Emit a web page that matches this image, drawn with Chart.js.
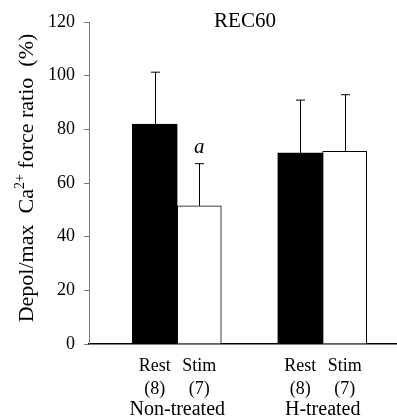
<!DOCTYPE html>
<html>
<head>
<meta charset="utf-8">
<script src="https://cdn.jsdelivr.net/npm/chart.js@4.4.1/dist/chart.umd.min.js"></script>
<style>
  html, body { margin: 0; padding: 0; background: #fff; }
  #wrap { width: 397px; height: 420px; position: relative; }
</style>
</head>
<body>
<div id="wrap"><canvas id="c" width="397" height="420"></canvas></div>
<script>
// ---- Data ----
const chartTitle = 'REC60';
const groups = ['Non-treated', 'H-treated'];
const conditions = ['Rest', 'Stim'];
const restMean = [82.0, 71.2];
const restSD = [19.3, 19.7];
const restN = [8, 8];
const stimMean = [51.5, 71.8];
const stimSD = [15.7, 21.1];
const stimN = [7, 7];
const stimMarks = ['a', ''];
const yTicks = [0, 20, 40, 60, 80, 100, 120];

const FONT = "'Liberation Serif', 'Times New Roman', serif";

const errorBars = {
  id: 'errorBars',
  afterDatasetsDraw(chart) {
    const ctx = chart.ctx;
    const ys = chart.scales.y;
    const sds = [restSD, stimSD];
    const means = [restMean, stimMean];
    ctx.save();
    ctx.strokeStyle = '#000';
    ctx.lineWidth = 1;
    chart.data.datasets.forEach((ds, di) => {
      const meta = chart.getDatasetMeta(di);
      meta.data.forEach((el, i) => {
        const x = Math.round(el.x) + 0.5;
        const yTop = ys.getPixelForValue(means[di][i] + sds[di][i]);
        ctx.beginPath();
        ctx.moveTo(x, el.y);
        ctx.lineTo(x, yTop);
        ctx.moveTo(x - 4.5, yTop);
        ctx.lineTo(x + 4.5, yTop);
        ctx.stroke();
      });
    });
    // significance marks
    const meta = chart.getDatasetMeta(1);
    ctx.fillStyle = '#000';
    ctx.font = "italic 21px " + FONT;
    ctx.textAlign = 'center';
    ctx.textBaseline = 'alphabetic';
    meta.data.forEach((el, i) => {
      if (!stimMarks[i]) return;
      const yTop = ys.getPixelForValue(stimMean[i] + stimSD[i]);
      ctx.fillText(stimMarks[i], el.x, yTop - 11);
    });
    ctx.restore();
  }
};

const labelsPlugin = {
  id: 'labelsPlugin',
  afterDraw(chart) {
    const ctx = chart.ctx;
    const area = chart.chartArea;
    ctx.save();
    ctx.fillStyle = '#000';
    // title
    ctx.font = "21px " + FONT;
    ctx.textAlign = 'center';
    ctx.textBaseline = 'alphabetic';
    ctx.fillText(chartTitle, (area.left + area.right) / 2 + 2, 27);
    // condition labels and counts under bars
    ctx.font = "18px " + FONT;
    ctx.textBaseline = 'middle';
    const ns = [restN, stimN];
    chart.data.datasets.forEach((ds, di) => {
      chart.getDatasetMeta(di).data.forEach((el, i) => {
        ctx.fillText(conditions[di], el.x, area.bottom + 22);
        ctx.fillText('(' + ns[di][i] + ')', el.x, area.bottom + 45);
      });
    });
    // y-axis title with superscript
    const p1 = 'Depol/max  Ca';
    const sup = '2+';
    const p3 = ' force ratio  (%)';
    ctx.font = "22px " + FONT;
    const w1 = ctx.measureText(p1).width;
    const w3 = ctx.measureText(p3).width;
    ctx.font = "14px " + FONT;
    const w2 = ctx.measureText(sup).width;
    const total = w1 + w2 + w3;
    ctx.translate(33, (area.top + area.bottom) / 2 - 5);
    ctx.rotate(-Math.PI / 2);
    ctx.textAlign = 'left';
    ctx.textBaseline = 'alphabetic';
    let x = -total / 2;
    ctx.font = "22px " + FONT;
    ctx.fillText(p1, x, 0);
    x += w1;
    ctx.font = "14px " + FONT;
    ctx.fillText(sup, x, -9);
    x += w2;
    ctx.font = "22px " + FONT;
    ctx.fillText(p3, x, 0);
    ctx.restore();
  }
};

new Chart(document.getElementById('c'), {
  type: 'bar',
  data: {
    datasets: [
      {
        label: conditions[0],
        data: restMean.map((v, i) => ({ x: i + 1, y: v })),
        backgroundColor: '#000',
        borderColor: '#000',
        borderWidth: 1,
        barThickness: 45
      },
      {
        label: conditions[1],
        data: stimMean.map((v, i) => ({ x: i + 1, y: v })),
        backgroundColor: '#fff',
        borderColor: '#000',
        borderWidth: 1,
        barThickness: 44
      }
    ]
  },
  plugins: [errorBars, labelsPlugin],
  options: {
    responsive: false,
    animation: false,
    layout: { padding: { top: 22, right: 0, bottom: 0, left: 0 } },
    plugins: {
      legend: { display: false },
      title: { display: false },
      tooltip: { enabled: false }
    },
    scales: {
      x: {
        type: 'linear',
        offset: false,
        min: 0.3927,
        max: 2.511,
        afterBuildTicks(scale) { scale.ticks = groups.map((g, i) => ({ value: i + 1 })); },
        afterFit(scale) {
          scale.height = 76;
          scale.paddingLeft = 0;
          scale.paddingRight = 0;
        },
        ticks: {
          autoSkip: false,
          maxRotation: 0,
          padding: 54,
          color: '#000',
          font: { family: FONT, size: 20 },
          callback: (v) => groups[Math.round(v) - 1] || ''
        },
        grid: { display: false, drawTicks: false },
        border: { display: true, color: '#000', width: 1.5 }
      },
      y: {
        min: 0,
        max: 120,
        afterBuildTicks(scale) { scale.ticks = yTicks.map(v => ({ value: v })); },
        afterFit(scale) { scale.width = 89; },
        ticks: {
          padding: 9,
          color: '#000',
          font: { family: FONT, size: 18 }
        },
        grid: { drawOnChartArea: false, drawTicks: true, tickLength: 5, color: '#777' },
        border: { display: true, color: '#777', width: 1 }
      }
    }
  }
});
</script>
</body>
</html>
